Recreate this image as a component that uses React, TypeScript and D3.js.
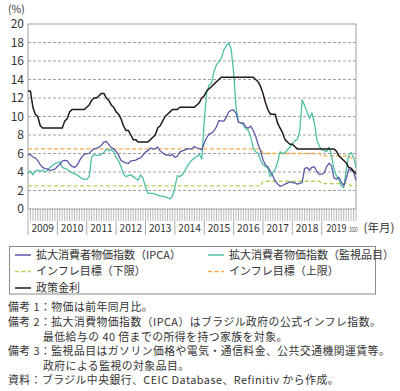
import React from 'react';
import * as d3 from 'd3';

// monthly, Jan 2009 - Mar 2020
const years = ['2009', '2010', '2011', '2012', '2013', '2014', '2015', '2016', '2017', '2018', '2019', '2020'];

const ipca = [
  5.84, 5.90, 5.61, 5.53, 5.20, 4.80, 4.50, 4.36, 4.34, 4.17, 4.22, 4.31,
  4.59, 4.83, 5.17, 5.26, 5.22, 4.84, 4.60, 4.49, 4.70, 5.20, 5.63, 5.91,
  5.99, 6.01, 6.30, 6.51, 6.55, 6.71, 6.87, 7.23, 7.31, 6.97, 6.64, 6.50,
  6.22, 5.85, 5.24, 5.10, 4.99, 4.92, 5.20, 5.24, 5.28, 5.45, 5.53, 5.84,
  6.15, 6.31, 6.59, 6.49, 6.50, 6.70, 6.27, 6.09, 5.86, 5.84, 5.77, 5.91,
  5.59, 5.68, 6.15, 6.28, 6.37, 6.52, 6.50, 6.51, 6.75, 6.59, 6.56, 6.41,
  7.14, 7.70, 8.13, 8.17, 8.47, 8.89, 9.56, 9.53, 9.49, 9.93, 10.48, 10.67,
  10.71, 10.36, 9.39, 9.28, 9.32, 8.84, 8.74, 8.97, 8.48, 7.87, 6.99, 6.29,
  5.35, 4.76, 4.57, 4.08, 3.60, 3.00, 2.71, 2.46, 2.54, 2.70, 2.80, 2.95,
  2.86, 2.84, 2.68, 2.76, 2.86, 4.39, 4.48, 4.19, 4.53, 4.56, 4.05, 3.75,
  3.78, 3.89, 4.58, 4.94, 4.66, 3.37, 3.22, 3.43, 2.89, 2.54, 3.27, 4.31,
  4.19, 4.01, 3.10,
];

const monitored = [
  3.9, 4.1, 3.7, 4.1, 4.2, 4.1, 4.2, 4.0, 4.2, 4.5, 4.7, 4.9,
  5.0, 5.1, 4.5, 4.4, 4.3, 4.1, 3.9, 3.8, 3.7, 3.5, 3.3, 3.2,
  3.2, 3.5, 5.6, 5.9, 5.8, 5.8, 5.9, 6.1, 6.5, 6.3, 6.4, 6.2,
  5.6, 5.2, 4.6, 3.8, 3.5, 3.6, 3.7, 3.5, 3.3, 3.1, 3.7, 3.3,
  2.4, 1.7, 1.7, 1.7, 1.6, 1.5, 1.4, 1.4, 1.3, 1.2, 1.1, 1.4,
  2.3, 3.6, 3.5, 3.7, 4.1, 4.6, 5.0, 5.3, 5.5, 5.7, 5.9, 5.4,
  9.5, 12.6, 13.4, 13.6, 14.9, 15.6, 15.9, 16.3, 17.2, 17.6, 18.0, 17.3,
  14.8, 11.0, 9.4, 9.3, 9.1, 8.7, 8.5, 7.8, 6.6, 6.2, 6.0, 5.3,
  4.8, 4.6, 4.4, 3.5, 3.9, 4.3, 5.1, 6.2, 6.0, 6.1, 6.4, 6.7,
  7.0, 7.4, 7.5, 8.4, 11.8, 11.2, 10.5, 9.8, 10.4, 9.3, 7.5, 6.8,
  6.4, 6.3, 6.2, 6.7, 5.8, 4.3, 3.6, 3.2, 2.5, 2.3, 4.2, 5.8,
  6.1, 5.6, 4.5,
];

const selic = [
  12.75, 12.75, 11.0, 10.25, 10.0, 9.0, 8.75, 8.75, 8.75, 8.75, 8.75, 8.75,
  8.75, 8.75, 8.75, 9.5, 9.75, 10.5, 10.75, 10.75, 10.75, 10.75, 10.75, 10.75,
  11.0, 11.25, 11.75, 12.0, 12.0, 12.25, 12.5, 12.5, 12.0, 11.75, 11.25, 11.0,
  10.5, 10.25, 9.75, 9.0, 8.5, 8.5, 8.0, 7.5, 7.5, 7.25, 7.25, 7.25,
  7.25, 7.25, 7.5, 7.75, 8.0, 8.75, 9.0, 9.5, 10.0, 10.25, 10.5, 10.75,
  10.75, 10.75, 11.0, 11.0, 11.0, 11.0, 11.0, 11.0, 11.0, 11.25, 11.5, 12.0,
  12.25, 12.75, 13.0, 13.25, 13.5, 13.75, 14.0, 14.25, 14.25, 14.25, 14.25, 14.25,
  14.25, 14.25, 14.25, 14.25, 14.25, 14.25, 14.25, 14.25, 14.25, 14.0, 13.75, 13.25,
  12.5, 11.5, 10.75, 10.25, 10.25, 10.25, 9.25, 8.75, 8.25, 7.5, 7.25, 7.0,
  7.0, 6.75, 6.5, 6.5, 6.5, 6.5, 6.5, 6.5, 6.5, 6.5, 6.5, 6.5,
  6.5, 6.5, 6.5, 6.5, 6.5, 6.5, 6.25, 5.75, 5.5, 5.25, 5.0, 4.5,
  4.4, 4.1, 3.8,
];

// inflation target band, one value per year
const targetUpper = [6.5, 6.5, 6.5, 6.5, 6.5, 6.5, 6.5, 6.5, 6.0, 6.0, 5.75, 5.5];
const targetLower = [2.5, 2.5, 2.5, 2.5, 2.5, 2.5, 2.5, 2.5, 3.0, 3.0, 2.75, 2.5];

const yTicks = [0, 2, 4, 6, 8, 10, 12, 14, 16, 18, 20];

const notes = [
  { x: 8, text: '備考 1：物価は前年同月比。' },
  { x: 8, text: '備考 2：拡大消費物価指数（IPCA）はブラジル政府の公式インフレ指数。' },
  { x: 43, text: '最低給与の 40 倍までの所得を持つ家族を対象。' },
  { x: 8, text: '備考 3：監視品目はガソリン価格や電気・通信料金、公共交通機関運賃等。' },
  { x: 43, text: '政府による監視の対象品目。' },
  { x: 8, text: '資料：ブラジル中央銀行、CEIC Database、Refinitiv から作成。' },
];

const COLORS = {
  ipca: '#5a58a8',
  monitored: '#4fc1a0',
  selic: '#231815',
  upper: '#f5a94a',
  lower: '#b5d35a',
};

const FONT = '"Noto Sans CJK JP", "Noto Sans", sans-serif';

export default function App() {
  const margin = { left: 28, right: 356, top: 24, bottom: 209 };
  const nMonths = ipca.length;

  const x = d3.scaleLinear().domain([0, nMonths - 1]).range([margin.left, margin.right]);
  const y = d3.scaleLinear().domain([0, 20]).range([margin.bottom, margin.top]);

  const line = d3.line<number>()
    .x((d, i) => x(i))
    .y((d) => y(d));

  const monthly = (vals: number[]) =>
    d3.range(nMonths).map((i) => vals[Math.floor(i / 12)]);

  const monthW = x(1) - x(0);
  const yearStart = (k: number) => x(k * 12);

  const series = [
    { key: 'lower', vals: monthly(targetLower), color: COLORS.lower, dash: '4,2.5', w: 1.3 },
    { key: 'upper', vals: monthly(targetUpper), color: COLORS.upper, dash: '4,2.5', w: 1.3 },
    { key: 'monitored', vals: monitored, color: COLORS.monitored, dash: null, w: 1.3 },
    { key: 'ipca', vals: ipca, color: COLORS.ipca, dash: null, w: 1.3 },
    { key: 'selic', vals: selic, color: COLORS.selic, dash: null, w: 1.5 },
  ];

  const legend = [
    { label: '拡大消費者物価指数（IPCA）', color: COLORS.ipca, dash: null, x: 15, y: 255 },
    { label: '拡大消費者物価指数（監視品目）', color: COLORS.monitored, dash: null, x: 208, y: 255 },
    { label: 'インフレ目標（下限）', color: COLORS.lower, dash: '4,2.5', x: 15, y: 271.5 },
    { label: 'インフレ目標（上限）', color: COLORS.upper, dash: '4,2.5', x: 208, y: 271.5 },
    { label: '政策金利', color: COLORS.selic, dash: null, x: 15, y: 288 },
  ];

  return (
    <div style={{ position: 'absolute', left: 0, top: 0 }}>
      <svg width={400} height={391} style={{ display: 'block', fontFamily: FONT }}>
        <rect width={400} height={391} fill="#fff" />

        <text x={8} y={13} fontSize={10.5} fill="#333">(%)</text>

        {/* grid */}
        {yTicks.filter((t) => t > 0 && t < 20).map((t) => (
          <line key={t} x1={margin.left} x2={margin.right} y1={y(t)} y2={y(t)}
            stroke="#8a8a8a" strokeWidth={0.8} strokeDasharray="3,2" />
        ))}
        {yTicks.map((t) => (
          <text key={'t' + t} x={24} y={y(t)} dy="0.36em" textAnchor="end" fontSize={12} fill="#333">{t}</text>
        ))}

        {/* frame */}
        <rect x={margin.left} y={margin.top} width={margin.right - margin.left}
          height={margin.bottom - margin.top} fill="none" stroke="#a0a0a0" strokeWidth={1} />

        {/* month ticks */}
        {d3.range(nMonths).map((i) => (
          <line key={'m' + i} x1={x(i)} x2={x(i)} y1={margin.bottom} y2={221}
            stroke="#8a8a8a" strokeWidth={0.6} />
        ))}
        {years.slice(0, 11).map((yr, k) => (
          <line key={'s' + yr} x1={yearStart(k)} x2={yearStart(k)} y1={221} y2={235}
            stroke="#8a8a8a" strokeWidth={0.7} />
        ))}
        {years.map((yr, k) => {
          const last = k === years.length - 1;
          const cx = last ? 353.5 : k === 10 ? 336.5 : yearStart(k) + monthW * 6;
          return (
            <text key={'y' + yr} x={cx} y={232} textAnchor="middle" fontSize={last ? 6 : 11} fill="#333"
              textLength={last ? 8 : k === 10 ? 20 : 22.5} lengthAdjust="spacingAndGlyphs">{yr}</text>
          );
        })}
        <text x={363.5} y={232} fontSize={11.5} fill="#333">(年月)</text>

        {/* series */}
        {series.map((s) => (
          <path key={s.key} d={line(s.vals) || ''} fill="none" stroke={s.color}
            strokeWidth={s.w} strokeDasharray={s.dash || undefined} strokeLinejoin="round" />
        ))}

        {/* legend */}
        <rect x={9.5} y={246.5} width={366} height={47.5} fill="none" stroke="#8a8a8a" strokeWidth={1} />
        {legend.map((l) => (
          <g key={l.label}>
            <line x1={l.x} x2={l.x + 16} y1={l.y} y2={l.y} stroke={l.color} strokeWidth={1.5}
              strokeDasharray={l.dash || undefined} />
            <text x={l.x + 21} y={l.y} dy="0.36em" fontSize={11} fill="#333">{l.label}</text>
          </g>
        ))}

        {/* notes */}
        {notes.map((n, i) => (
          <text key={i} x={n.x} y={307.5 + i * 14.6} dy="0.36em" fontSize={10.8} letterSpacing={0.5}
            fill="#333">{n.text}</text>
        ))}
      </svg>
    </div>
  );
}
